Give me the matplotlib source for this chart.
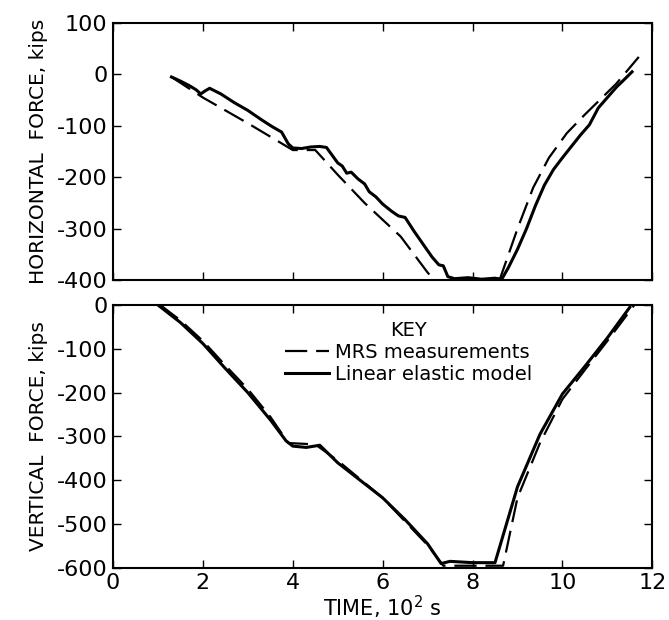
import matplotlib.pyplot as plt

plt.rcParams["axes.unicode_minus"] = False

# horizontal force (top panel), kips vs time in 10^2 s
h_lin_t = [1.3, 1.5, 1.7, 1.85, 1.95, 2.05, 2.15, 2.4, 2.7, 3.0, 3.3, 3.55, 3.75, 3.9, 4.0,
           4.2, 4.4, 4.6, 4.75, 4.9, 5.0, 5.1, 5.2, 5.3, 5.45, 5.6, 5.7, 5.85, 6.0, 6.2,
           6.35, 6.5, 6.7, 6.9, 7.1, 7.25, 7.35, 7.45, 7.6, 7.9, 8.2, 8.5, 8.65, 8.8, 9.0,
           9.2, 9.4, 9.6, 9.8, 10.0, 10.2, 10.4, 10.6, 10.8, 11.0, 11.2, 11.4, 11.55]
h_lin_f = [-5, -13, -22, -30, -38, -32, -27, -38, -55, -70, -88, -102, -112, -135, -143,
           -144, -141, -140, -142, -160, -172, -178, -192, -190, -203, -213, -228, -238, -252, -266,
           -275, -278, -305, -330, -355, -370, -372, -393, -397, -395, -398, -396, -398, -375, -340,
           -300, -255, -215, -185, -162, -140, -118, -98, -65, -45, -25, -8, 5]
h_mrs_t = [1.3, 2.0, 3.0, 4.0, 4.5, 5.0, 5.6, 6.4, 7.0, 7.15, 8.6, 9.0, 9.35, 9.7, 10.1,
           10.5, 10.85, 11.2, 11.7]
h_mrs_f = [-5, -45, -95, -147, -147, -195, -250, -315, -385, -400, -400, -300, -220, -162, -114,
           -78, -48, -18, 34]

# vertical force (bottom panel)
v_lin_t = [1.0, 1.5, 2.0, 2.5, 3.0, 3.5, 3.85, 4.0, 4.3, 4.6, 4.8, 5.0, 5.5, 6.0, 6.5, 7.0,
           7.3, 7.5, 8.0, 8.5, 9.0, 9.5, 10.0, 10.5, 11.0, 11.5]
v_lin_f = [0, -40, -88, -145, -200, -262, -310, -322, -325, -320, -340, -360, -400, -440, -490, -545,
           -590, -585, -588, -588, -415, -295, -203, -140, -75, -5]
v_mrs_t = [1.05, 1.5, 2.0, 2.5, 3.0, 3.5, 3.9, 4.5, 5.0, 6.0, 7.0, 7.35, 8.68, 9.0, 9.5, 10.0,
           10.5, 11.0, 11.6]
v_mrs_f = [0, -35, -82, -138, -192, -255, -315, -318, -355, -440, -548, -595, -595, -440, -315, -215,
           -148, -82, 0]

x_ticks = [0, 2, 4, 6, 8, 10, 12]
h_ticks = [-400, -300, -200, -100, 0, 100]
v_ticks = [-600, -500, -400, -300, -200, -100, 0]

fig = plt.figure(figsize=(6.69, 6.2), dpi=100)
ax1 = fig.add_axes([0.169, 0.548, 0.806, 0.415])
ax2 = fig.add_axes([0.169, 0.084, 0.806, 0.424])

for ax in (ax1, ax2):
    ax.set_xlim(0, 12)
    ax.set_xticks(x_ticks)
    ax.tick_params(direction="in", length=6, width=1, labelsize=16,
                   top=True, right=True, pad=4)
    for s in ax.spines.values():
        s.set_linewidth(1.5)

ax1.plot(h_mrs_t, h_mrs_f, color="black", lw=1.6, dashes=(10, 4))
ax1.plot(h_lin_t, h_lin_f, color="black", lw=2.2)
ax1.set_ylim(-400, 100)
ax1.set_yticks(h_ticks)
ax1.tick_params(labelbottom=False)
ax1.set_ylabel("HORIZONTAL  FORCE, kips", fontsize=14.5, labelpad=6)

ax2.plot(v_mrs_t, v_mrs_f, color="black", lw=1.6, dashes=(10, 4), label="MRS measurements")
ax2.plot(v_lin_t, v_lin_f, color="black", lw=2.2, label="Linear elastic model")
ax2.set_ylim(-600, 0)
ax2.set_yticks(v_ticks)
ax2.set_ylabel("VERTICAL  FORCE, kips", fontsize=14.5, labelpad=6)
ax2.set_xlabel("TIME, 10$^2$ s", fontsize=15, labelpad=0)

ax2.legend(title="KEY", loc="upper left", bbox_to_anchor=(0.3, 0.975),
           frameon=False, fontsize=14, title_fontsize=14, borderpad=0,
           handlelength=2.3, handletextpad=0.3, labelspacing=0.15)

fig.savefig("out.png", dpi=100)
